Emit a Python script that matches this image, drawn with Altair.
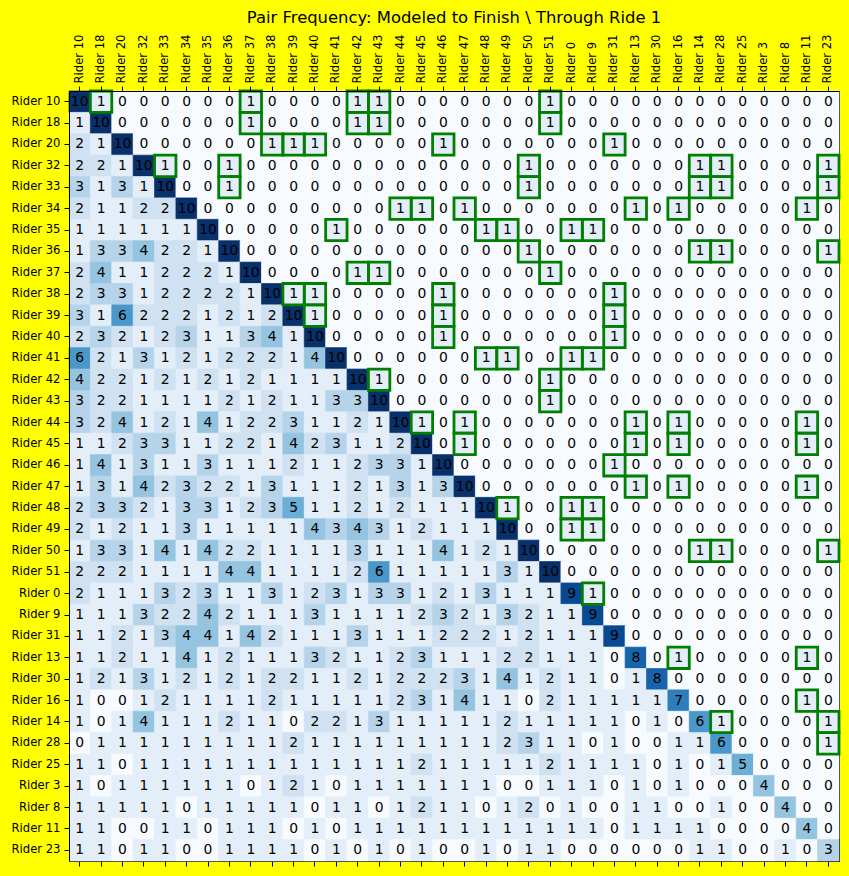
import altair as alt
import pandas as pd

riders = ["Rider 10", "Rider 18", "Rider 20", "Rider 32", "Rider 33", "Rider 34", "Rider 35",
          "Rider 36", "Rider 37", "Rider 38", "Rider 39", "Rider 40", "Rider 41", "Rider 42",
          "Rider 43", "Rider 44", "Rider 45", "Rider 46", "Rider 47", "Rider 48", "Rider 49",
          "Rider 50", "Rider 51", "Rider 0", "Rider 9", "Rider 31", "Rider 13", "Rider 30",
          "Rider 16", "Rider 14", "Rider 28", "Rider 25", "Rider 3", "Rider 8", "Rider 11",
          "Rider 23"]

r10 = [10,1,0,0,0,0,0,0,1,0,0,0, 0,1,1,0,0,0,0,0,0,0,1,0, 0,0,0,0,0,0,0,0,0,0,0,0]
r18 = [1,10,0,0,0,0,0,0,1,0,0,0, 0,1,1,0,0,0,0,0,0,0,1,0, 0,0,0,0,0,0,0,0,0,0,0,0]
r20 = [2,1,10,0,0,0,0,0,0,1,1,1, 0,0,0,0,0,1,0,0,0,0,0,0, 0,1,0,0,0,0,0,0,0,0,0,0]
r32 = [2,2,1,10,1,0,0,1,0,0,0,0, 0,0,0,0,0,0,0,0,0,1,0,0, 0,0,0,0,0,1,1,0,0,0,0,1]
r33 = [3,1,3,1,10,0,0,1,0,0,0,0, 0,0,0,0,0,0,0,0,0,1,0,0, 0,0,0,0,0,1,1,0,0,0,0,1]
r34 = [2,1,1,2,2,10,0,0,0,0,0,0, 0,0,0,1,1,0,1,0,0,0,0,0, 0,0,1,0,1,0,0,0,0,0,1,0]
r35 = [1,1,1,1,1,1,10,0,0,0,0,0, 1,0,0,0,0,0,0,1,1,0,0,1, 1,0,0,0,0,0,0,0,0,0,0,0]
r36 = [1,3,3,4,2,2,1,10,0,0,0,0, 0,0,0,0,0,0,0,0,0,1,0,0, 0,0,0,0,0,1,1,0,0,0,0,1]
r37 = [2,4,1,1,2,2,2,1,10,0,0,0, 0,1,1,0,0,0,0,0,0,0,1,0, 0,0,0,0,0,0,0,0,0,0,0,0]
r38 = [2,3,3,1,2,2,2,2,1,10,1,1, 0,0,0,0,0,1,0,0,0,0,0,0, 0,1,0,0,0,0,0,0,0,0,0,0]
r39 = [3,1,6,2,2,2,1,2,1,2,10,1, 0,0,0,0,0,1,0,0,0,0,0,0, 0,1,0,0,0,0,0,0,0,0,0,0]
r40 = [2,3,2,1,2,3,1,1,3,4,1,10, 0,0,0,0,0,1,0,0,0,0,0,0, 0,1,0,0,0,0,0,0,0,0,0,0]
r41 = [6,2,1,3,1,2,1,2,2,2,1,4, 10,0,0,0,0,0,0,1,1,0,0,1, 1,0,0,0,0,0,0,0,0,0,0,0]
r42 = [4,2,2,1,2,1,2,1,2,1,1,1, 1,10,1,0,0,0,0,0,0,0,1,0, 0,0,0,0,0,0,0,0,0,0,0,0]
r43 = [3,2,2,1,1,1,1,2,1,2,1,1, 3,3,10,0,0,0,0,0,0,0,1,0, 0,0,0,0,0,0,0,0,0,0,0,0]
r44 = [3,2,4,1,2,1,4,1,2,2,3,1, 1,2,1,10,1,0,1,0,0,0,0,0, 0,0,1,0,1,0,0,0,0,0,1,0]
r45 = [1,1,2,3,3,1,1,2,2,1,4,2, 3,1,1,2,10,0,1,0,0,0,0,0, 0,0,1,0,1,0,0,0,0,0,1,0]
r46 = [1,4,1,3,1,1,3,1,1,1,2,1, 1,2,3,3,1,10,0,0,0,0,0,0, 0,1,0,0,0,0,0,0,0,0,0,0]
r47 = [1,3,1,4,2,3,2,2,1,3,1,1, 1,2,1,3,1,3,10,0,0,0,0,0, 0,0,1,0,1,0,0,0,0,0,1,0]
r48 = [2,3,3,2,1,3,3,1,2,3,5,1, 1,2,1,2,1,1,1,10,1,0,0,1, 1,0,0,0,0,0,0,0,0,0,0,0]
r49 = [2,1,2,1,1,3,1,1,1,1,1,4, 3,4,3,1,2,1,1,1,10,0,0,1, 1,0,0,0,0,0,0,0,0,0,0,0]
r50 = [1,3,3,1,4,1,4,2,2,1,1,1, 1,3,1,1,1,4,1,2,1,10,0,0, 0,0,0,0,0,1,1,0,0,0,0,1]
r51 = [2,2,2,1,1,1,1,4,4,1,1,1, 1,2,6,1,1,1,1,1,3,1,10,0, 0,0,0,0,0,0,0,0,0,0,0,0]
r0  = [2,1,1,1,3,2,3,1,1,3,1,2, 3,1,3,3,1,2,1,3,1,1,1,9, 1,0,0,0,0,0,0,0,0,0,0,0]
r9  = [1,1,1,3,2,2,4,2,1,1,1,3, 1,1,1,1,2,3,2,1,3,2,1,1, 9,0,0,0,0,0,0,0,0,0,0,0]
r31 = [1,1,2,1,3,4,4,1,4,2,1,1, 1,3,1,1,1,2,2,2,1,2,1,1, 1,9,0,0,0,0,0,0,0,0,0,0]
r13 = [1,1,2,1,1,4,1,2,1,1,1,3, 2,1,1,2,3,1,1,1,2,2,1,1, 1,0,8,0,1,0,0,0,0,0,1,0]
r30 = [1,2,1,3,1,2,1,2,1,2,2,1, 1,2,1,2,2,2,3,1,4,1,2,1, 1,0,1,8,0,0,0,0,0,0,0,0]
r16 = [1,0,0,1,2,1,1,1,1,2,1,1, 1,1,1,2,3,1,4,1,1,0,2,1, 1,1,1,1,7,0,0,0,0,0,1,0]
r14 = [1,0,1,4,1,1,1,2,1,1,0,2, 2,1,3,1,1,1,1,1,2,1,1,1, 1,1,0,1,0,6,1,0,0,0,0,1]
r28 = [0,1,1,1,1,1,1,1,1,1,2,1, 1,1,1,1,1,1,1,1,2,3,1,1, 0,1,0,0,1,1,6,0,0,0,0,1]
r25 = [1,1,0,1,1,1,1,1,1,1,1,1, 1,1,1,1,2,1,1,1,1,1,2,1, 1,1,1,0,1,0,1,5,0,0,0,0]
r3  = [1,0,1,1,1,1,1,1,0,1,2,1, 0,1,1,1,1,1,1,1,0,0,1,1, 1,0,1,0,1,0,0,0,4,0,0,0]
r8  = [1,1,1,1,1,0,1,1,1,1,1,0, 1,1,0,1,2,1,1,0,1,2,0,1, 0,0,1,1,0,0,1,0,0,4,0,0]
r11 = [1,1,0,0,1,1,0,1,1,1,0,1, 0,1,1,1,1,1,1,1,1,1,1,1, 1,0,1,1,1,1,0,0,0,0,4,0]
r23 = [1,1,0,1,1,0,0,1,1,1,1,0, 1,0,1,0,1,0,0,1,0,1,1,0, 0,0,0,0,0,1,1,0,0,1,0,3]

rows = [r10, r18, r20, r32, r33, r34, r35, r36, r37, r38, r39, r40, r41, r42, r43, r44,
        r45, r46, r47, r48, r49, r50, r51, r0, r9, r31, r13, r30, r16, r14, r28, r25,
        r3, r8, r11, r23]

# matplotlib "Blues" sampled at 0, 0.1, ..., 1.0
blues = ["#f7fbff", "#e3eef9", "#d0e1f2", "#b6d4e9", "#94c4df", "#6baed6",
         "#4a98c9", "#2e7ebc", "#1764ab", "#084a92", "#08306b"]

records = []
for i, (rname, row) in enumerate(zip(riders, rows)):
    for j, (cname, v) in enumerate(zip(riders, row)):
        records.append({"row": rname, "col": cname, "value": v, "upper": j > i})
df = pd.DataFrame(records)

FONT = "DejaVu Sans"
xscale = alt.Scale(paddingInner=0, paddingOuter=0)
yscale = alt.Scale(paddingInner=0, paddingOuter=0)
cscale = alt.Scale(domain=list(range(11)), range=blues)

yaxis = alt.Axis(title=None, labelFontSize=11.6, labelFont=FONT, labelColor="black",
                 tickColor="black", tickSize=5, labelPadding=4, domainColor="black")
y_enc = alt.Y("row:N", sort=riders, scale=yscale, axis=yaxis)

base = alt.Chart(df)

heat = base.mark_rect(strokeWidth=0.7).encode(
    x=alt.X("col:N", sort=riders, scale=xscale,
            axis=alt.Axis(orient="top", title=None, labelAngle=270, labelAlign="left",
                          labelBaseline="middle", labelFontSize=11.6, labelFont=FONT,
                          labelColor="black", tickColor="black", tickSize=5,
                          labelPadding=3, domainColor="black")),
    y=y_enc,
    color=alt.Color("value:Q", scale=cscale, legend=None),
    stroke=alt.Stroke("value:Q", scale=cscale, legend=None),
)

text = base.mark_text(font=FONT, fontSize=13.9, color="black", align="center",
                      baseline="middle").encode(
    x=alt.X("col:N", sort=riders, scale=xscale,
            axis=alt.Axis(orient="bottom", title=None, labels=False, tickColor="black",
                          tickSize=5, domainColor="black")),
    y=y_enc,
    text=alt.Text("value:Q"),
)

boxes = base.transform_filter(
    (alt.datum.upper == True) & (alt.datum.value == 1)
).mark_rect(filled=False, stroke="#008000", strokeWidth=2.8).encode(
    x=alt.X("col:N", sort=riders, scale=xscale, axis=None),
    y=y_enc,
)

chart = alt.layer(heat, text, boxes).resolve_axis(x="independent").properties(
    width=770,
    height=770,
    autosize=alt.AutoSizeParams(type="none"),
    padding={"left": 69, "top": 91, "right": 10, "bottom": 15},
    background="#ffff00",
    title=alt.Title("Pair Frequency: Modeled to Finish \\ Through Ride 1", fontSize=16.4,
                    font=FONT, fontWeight="normal", color="black", anchor="middle",
                    offset=8),
).configure_view(stroke="black", strokeWidth=1, fill="#f7fbff")

chart.save("out.html", embed_options={"renderer": "svg", "actions": False})
